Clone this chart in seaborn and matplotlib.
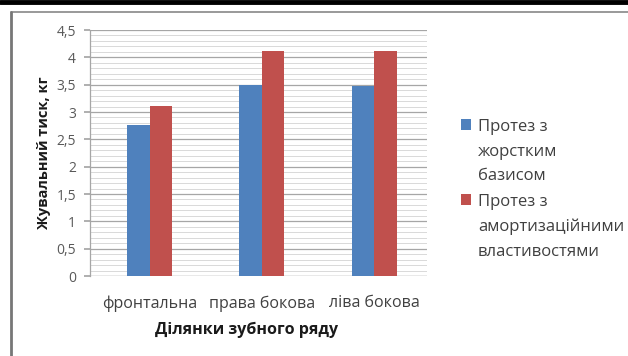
import matplotlib
matplotlib.use("Agg")
import matplotlib.pyplot as plt
from matplotlib.ticker import MultipleLocator, FuncFormatter
from matplotlib.lines import Line2D
import seaborn as sns
import pandas as pd

categories = ["фронтальна", "права бокова", "ліва бокова"]
series_names = ["Протез з\nжорстким\nбазисом", "Протез з\nамортизаційними\nвластивостями"]
rigid = [2.76, 3.50, 3.48]
damping = [3.11, 4.12, 4.11]
colors = ["#4F81BD", "#C0504D"]

df = pd.DataFrame({
    "cat": categories * 2,
    "val": rigid + damping,
    "series": [series_names[0]] * 3 + [series_names[1]] * 3,
})

sns.set_theme(style="white")
plt.rcParams["font.family"] = ["Open Sans", "DejaVu Sans"]

fig = plt.figure(figsize=(6.28, 3.56), dpi=100)
ax = fig.add_axes([90 / 628, 1 - 276 / 356, (427 - 90) / 628, (276 - 30) / 356])

sns.barplot(data=df, x="cat", y="val", hue="series", palette=colors,
            width=0.4, gap=0, ax=ax, legend=True, saturation=1, linewidth=0)

ax.set_ylim(0, 4.5)
ax.set_xlim(-0.53, 2.47)
ax.yaxis.set_major_locator(MultipleLocator(0.5))
ax.yaxis.set_minor_locator(MultipleLocator(0.1))
ax.yaxis.set_major_formatter(FuncFormatter(lambda v, p: (f"{v:g}").replace(".", ",")))
ax.grid(which="major", axis="y", color="#A6A6A6", lw=0.9)
ax.grid(which="minor", axis="y", color="#D9D9D9", lw=0.7)
ax.set_axisbelow(True)
for s in ["top", "right", "bottom"]:
    ax.spines[s].set_visible(False)
ax.spines["left"].set_color("#A6A6A6")
ax.spines["left"].set_linewidth(0.9)
ax.axhline(0, color="#A6A6A6", lw=0.9, zorder=0.5)
ax.tick_params(axis="y", which="major", left=True, length=4, color="#A6A6A6",
               labelsize=10, labelcolor="#595959", pad=6)
ax.tick_params(axis="y", which="minor", left=False)
ax.tick_params(axis="x", bottom=False, labelsize=11.5, labelcolor="#404040", pad=8)

ax.set_ylabel("Жувальний тиск, кг", fontsize=10.5, fontweight="bold", color="#1a1a1a", labelpad=4)
ax.set_xlabel("Ділянки зубного ряду", fontsize=11.5, fontweight="bold", color="#1a1a1a")
ax.xaxis.set_label_coords(0.465, -0.185)

leg = ax.legend(loc="upper left", bbox_to_anchor=(453 / 628, 1 - 111 / 356),
                bbox_transform=fig.transFigure, frameon=False, fontsize=12,
                handlelength=0.6, handleheight=0.6, handletextpad=0.4,
                labelspacing=0.6, labelcolor="#404040", borderpad=0)
for t in leg.get_texts():
    t.set_linespacing(1.7)
for col in leg._legend_handle_box.get_children():
    for hp in col.get_children():
        hp.align = "top"

# frame
fig.add_artist(Line2D([0, 1], [1 - 2 / 356, 1 - 2 / 356], transform=fig.transFigure,
                      color="black", lw=3.5))
fig.add_artist(Line2D([11 / 628, 1], [1 - 11.5 / 356, 1 - 11.5 / 356], transform=fig.transFigure,
                      color="#888888", lw=1.2))
fig.add_artist(Line2D([11 / 628, 11 / 628], [0, 1 - 11.5 / 356], transform=fig.transFigure,
                      color="#777777", lw=2))

fig.savefig("out.png", dpi=100)
